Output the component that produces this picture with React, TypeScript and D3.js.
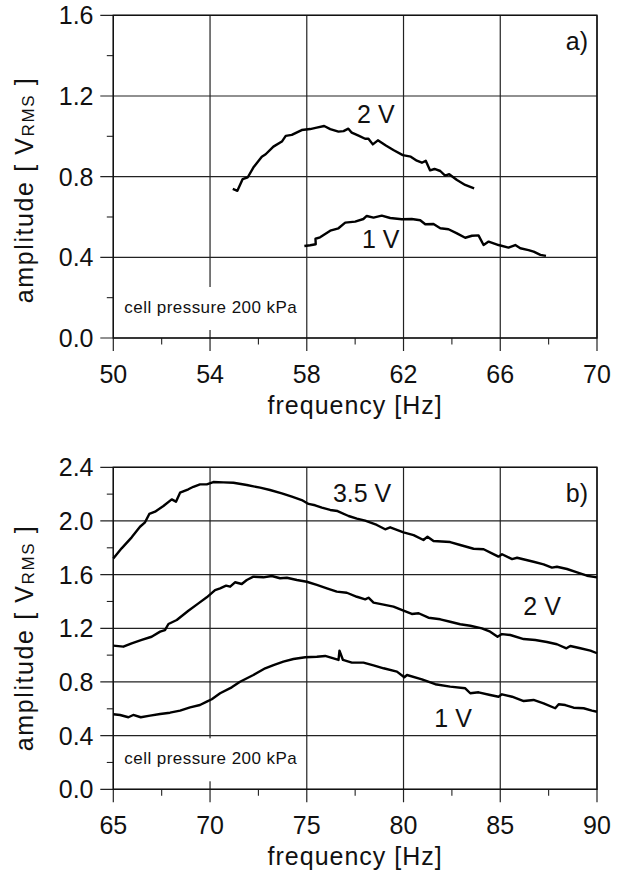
import React from 'react';
import * as d3 from 'd3';

// panel a) — cell pressure 200 kPa, 50..70 Hz
const a2V: [number, number][] = [
  [54.94, 0.739], [55.13, 0.73], [55.35, 0.788], [55.56, 0.797], [55.79, 0.845], [56.14, 0.899],
  [56.3, 0.911], [56.62, 0.949], [56.97, 0.974], [57.13, 1.002], [57.38, 1.007], [57.79, 1.031],
  [58.14, 1.036], [58.41, 1.043], [58.72, 1.051], [58.97, 1.036], [59.31, 1.023], [59.52, 1.026],
  [59.72, 1.038], [59.86, 1.018], [60.14, 1.003], [60.41, 0.988], [60.55, 0.988], [60.73, 0.96],
  [60.94, 0.98], [61.27, 0.954], [61.58, 0.932], [61.97, 0.907], [62.3, 0.899], [62.55, 0.879],
  [62.76, 0.869], [62.92, 0.879], [63.1, 0.831], [63.28, 0.838], [63.52, 0.828], [63.72, 0.805],
  [63.89, 0.812], [64.21, 0.783], [64.55, 0.759], [64.92, 0.742],
];
const a1V: [number, number][] = [
  [57.9, 0.456], [58.14, 0.46], [58.37, 0.465], [58.36, 0.492], [58.55, 0.499], [58.97, 0.532],
  [59.31, 0.544], [59.59, 0.572], [60.0, 0.577], [60.34, 0.59], [60.48, 0.605], [60.76, 0.597],
  [61.1, 0.607], [61.45, 0.595], [61.93, 0.589], [62.34, 0.59], [62.69, 0.584], [62.9, 0.564],
  [63.24, 0.565], [63.52, 0.544], [63.86, 0.539], [64.21, 0.519], [64.55, 0.497], [64.83, 0.507],
  [65.1, 0.509], [65.31, 0.461], [65.52, 0.478], [65.93, 0.461], [66.34, 0.448], [66.62, 0.461],
  [66.83, 0.445], [67.17, 0.436], [67.38, 0.428], [67.66, 0.412], [67.89, 0.407],
];

// panel b) — 65..90 Hz
const b35V: [number, number][] = [
  [65.0, 1.72], [65.43, 1.796], [65.95, 1.878], [66.38, 1.957], [66.64, 1.99], [66.86, 2.052],
  [67.16, 2.069], [67.59, 2.112], [68.02, 2.161], [68.24, 2.144], [68.45, 2.211], [68.88, 2.236],
  [69.14, 2.255], [69.48, 2.273], [69.83, 2.273], [70.17, 2.29], [70.69, 2.288], [71.21, 2.285],
  [71.9, 2.268], [72.59, 2.248], [73.1, 2.231], [73.71, 2.206], [74.23, 2.181], [74.74, 2.156],
  [75.09, 2.127], [75.43, 2.117], [75.78, 2.099], [76.21, 2.082], [76.59, 2.074], [77.16, 2.037],
  [77.59, 2.017], [78.02, 2.002], [78.62, 1.97], [79.05, 1.938], [79.31, 1.953], [80.0, 1.915],
  [80.52, 1.895], [81.03, 1.858], [81.24, 1.883], [81.55, 1.851], [82.41, 1.843], [82.93, 1.821],
  [83.62, 1.793], [84.14, 1.789], [84.57, 1.759], [84.91, 1.734], [85.09, 1.752], [85.61, 1.716],
  [85.87, 1.726], [86.72, 1.696], [87.24, 1.677], [87.67, 1.652], [87.93, 1.659], [88.45, 1.642],
  [88.97, 1.617], [89.48, 1.592], [90.0, 1.58],
];
const b2V: [number, number][] = [
  [65.0, 1.071], [65.52, 1.063], [65.95, 1.088], [66.47, 1.113], [66.98, 1.137], [67.42, 1.175],
  [67.67, 1.187], [67.85, 1.232], [68.28, 1.262], [68.88, 1.331], [69.4, 1.386], [69.83, 1.431],
  [70.26, 1.485], [70.52, 1.498], [70.83, 1.518], [71.04, 1.51], [71.29, 1.543], [71.64, 1.53],
  [71.9, 1.56], [72.24, 1.585], [72.76, 1.58], [73.19, 1.59], [73.62, 1.573], [73.97, 1.577],
  [74.49, 1.56], [75.0, 1.547], [75.52, 1.523], [76.04, 1.498], [76.55, 1.473], [77.07, 1.465],
  [77.59, 1.435], [78.02, 1.416], [78.19, 1.428], [78.45, 1.391], [78.97, 1.376], [79.48, 1.361],
  [80.0, 1.331], [80.43, 1.307], [80.78, 1.312], [81.29, 1.279], [81.9, 1.267], [82.41, 1.249],
  [82.93, 1.23], [83.45, 1.219], [84.05, 1.2], [84.48, 1.175], [84.86, 1.137], [85.09, 1.157],
  [85.52, 1.15], [86.21, 1.12], [86.81, 1.113], [87.41, 1.098], [87.93, 1.081], [88.42, 1.051],
  [88.62, 1.068], [89.14, 1.051], [89.66, 1.033], [90.0, 1.014],
];
const b1V: [number, number][] = [
  [65.0, 0.559], [65.35, 0.554], [65.78, 0.537], [66.03, 0.554], [66.42, 0.537], [66.9, 0.549],
  [67.42, 0.561], [67.93, 0.571], [68.45, 0.586], [68.97, 0.611], [69.48, 0.628], [69.83, 0.653],
  [70.09, 0.671], [70.52, 0.716], [71.12, 0.76], [71.55, 0.802], [72.24, 0.852], [72.85, 0.902],
  [73.28, 0.926], [73.79, 0.951], [74.31, 0.971], [74.92, 0.984], [75.52, 0.988], [75.95, 0.994],
  [76.64, 0.964], [76.69, 1.033], [76.87, 0.964], [77.33, 0.944], [77.93, 0.944], [78.45, 0.924],
  [78.97, 0.902], [79.66, 0.877], [80.04, 0.835], [80.18, 0.852], [80.95, 0.82], [81.64, 0.783],
  [82.41, 0.765], [83.19, 0.753], [83.45, 0.716], [83.88, 0.723], [84.48, 0.703], [84.91, 0.69],
  [85.09, 0.708], [85.61, 0.69], [86.21, 0.658], [86.72, 0.666], [87.24, 0.641], [87.84, 0.604],
  [88.02, 0.634], [88.36, 0.628], [88.79, 0.608], [89.31, 0.604], [89.74, 0.586], [90.0, 0.578],
];

const aXTicks = [50, 54, 58, 62, 66, 70];
const aXMinor = [52, 56, 60, 64, 68];
const aYTicks = [0, 0.4, 0.8, 1.2, 1.6];
const aYMinor = [0.2, 0.6, 1.0, 1.4];
const bXTicks = [65, 70, 75, 80, 85, 90];
const bXMinor = [67.5, 72.5, 77.5, 82.5, 87.5];
const bYTicks = [0, 0.4, 0.8, 1.2, 1.6, 2.0, 2.4];
const bYMinor = [0.2, 0.6, 1.0, 1.4, 1.8, 2.2];

const FONT = "'Liberation Sans', Arial, Helvetica, sans-serif";
const LEFT = 113.3;
const RIGHT = 597;

type Lbl = { text: string; f: number; v: number };

type PanelProps = {
  top: number;
  bottom: number;
  xTicks: number[];
  xMinor: number[];
  yTicks: number[];
  yMinor: number[];
  series: [number, number][][];
  labels: Lbl[];
  tag: string;
  yTitleMid: number;
};

function Panel(p: PanelProps) {
  const x = d3.scaleLinear().domain([p.xTicks[0], p.xTicks[p.xTicks.length - 1]]).range([LEFT, RIGHT]);
  const y = d3.scaleLinear().domain([p.yTicks[0], p.yTicks[p.yTicks.length - 1]]).range([p.bottom, p.top]);
  const line = d3.line<[number, number]>().x(d => x(d[0])).y(d => y(d[1]));
  const grid = '#222';

  return (
    <g fontFamily={FONT}>
      {/* minor ticks */}
      {p.yMinor.map(t => (
        <line key={'ym' + t} x1={LEFT - 6.5} x2={LEFT} y1={y(t)} y2={y(t)} stroke={grid} strokeWidth={1.1} />
      ))}
      {p.xMinor.map(t => (
        <line key={'xm' + t} x1={x(t)} x2={x(t)} y1={p.bottom} y2={p.bottom + 6.5} stroke={grid} strokeWidth={1.1} />
      ))}
      {/* major ticks + grid */}
      {p.yTicks.map(t => (
        <line key={'yg' + t} x1={LEFT - 13} x2={RIGHT} y1={y(t)} y2={y(t)} stroke={grid} strokeWidth={1.2} />
      ))}
      {p.xTicks.map(t => (
        <line key={'xg' + t} x1={x(t)} x2={x(t)} y1={p.top} y2={p.bottom + 13} stroke={grid} strokeWidth={1.2} />
      ))}
      {/* annotation box over the grid */}
      <rect x={LEFT + 2} y={p.bottom - 51} width={188} height={43} fill="#fff" />
      <text x={LEFT + 11} y={p.bottom - 25} fontSize={17} letterSpacing={0.45} fill="#111">
        cell pressure 200 kPa
      </text>
      {/* frame */}
      <rect x={LEFT} y={p.top} width={RIGHT - LEFT} height={p.bottom - p.top} fill="none" stroke="#111" strokeWidth={1.4} />
      {/* curves */}
      {p.series.map((s, i) => (
        <path key={'s' + i} d={line(s) || ''} fill="none" stroke="#000" strokeWidth={2.4} strokeLinejoin="round" />
      ))}
      {p.labels.map(l => (
        <text key={l.text} x={x(l.f)} y={y(l.v)} fontSize={25} fill="#111">
          {l.text}
        </text>
      ))}
      <text x={RIGHT - 9} y={p.top + 34.5} fontSize={25} textAnchor="end" fill="#111">
        {p.tag}
      </text>
      {/* tick labels */}
      {p.yTicks.map(t => (
        <text key={'yl' + t} x={93.5} y={y(t) + 9} fontSize={25} textAnchor="end" fill="#111">
          {t.toFixed(1)}
        </text>
      ))}
      {p.xTicks.map(t => (
        <text key={'xl' + t} x={x(t)} y={p.bottom + 44.5} fontSize={25} textAnchor="middle" fill="#111">
          {t}
        </text>
      ))}
      <text x={(LEFT + RIGHT) / 2} y={p.bottom + 76} fontSize={25} letterSpacing={1} textAnchor="middle" fill="#111">
        frequency [Hz]
      </text>
      <text
        transform={`translate(33,${p.yTitleMid}) rotate(-90)`}
        fontSize={25}
        letterSpacing={1.6}
        textAnchor="middle"
        fill="#111"
      >
        amplitude [ V<tspan fontSize={17} dy={1}>RMS</tspan>
        <tspan dy={-1}> ]</tspan>
      </text>
    </g>
  );
}

export default function App() {
  return (
    <svg width={627} height={871} style={{ position: 'absolute', left: 0, top: 0, background: '#fff' }}>
      <rect width={627} height={871} fill="#fff" />
      <Panel
        top={15.3}
        bottom={338}
        xTicks={aXTicks}
        xMinor={aXMinor}
        yTicks={aYTicks}
        yMinor={aYMinor}
        series={[a2V, a1V]}
        labels={[
          { text: '2 V', f: 60.08, v: 1.066 },
          { text: '1 V', f: 60.28, v: 0.445 },
        ]}
        tag="a)"
        yTitleMid={190}
      />
      <Panel
        top={467.3}
        bottom={789.3}
        xTicks={bXTicks}
        xMinor={bXMinor}
        yTicks={bYTicks}
        yMinor={bYMinor}
        series={[b35V, b2V, b1V]}
        labels={[
          { text: '3.5 V', f: 76.35, v: 2.144 },
          { text: '2 V', f: 86.19, v: 1.299 },
          { text: '1 V', f: 81.59, v: 0.467 },
        ]}
        tag="b)"
        yTitleMid={638}
      />
    </svg>
  );
}
